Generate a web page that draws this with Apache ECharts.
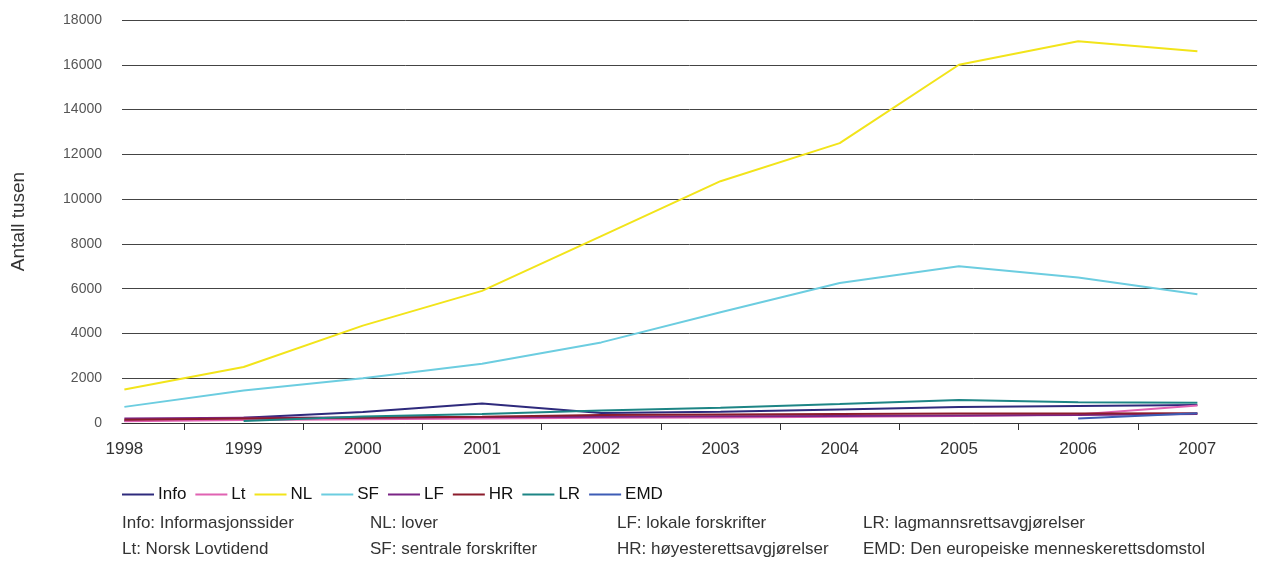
<!DOCTYPE html>
<html>
<head>
<meta charset="utf-8">
<script src="https://cdn.jsdelivr.net/npm/echarts@6/dist/echarts.min.js"></script>
<style>
html,body{margin:0;padding:0;background:#fff;}
#chart{width:1267px;height:569px;}
</style>
</head>
<body>
<div id="chart"></div>
<script>
const years = [1998, 1999, 2000, 2001, 2002, 2003, 2004, 2005, 2006, 2007];
const tickYears = [1998.5, 1999.5, 2000.5, 2001.5, 2002.5, 2003.5, 2004.5, 2005.5, 2006.5];
const yTicks = [0, 2000, 4000, 6000, 8000, 10000, 12000, 14000, 16000, 18000];

const seriesNames = ['Info', 'Lt', 'NL', 'SF', 'LF', 'HR', 'LR', 'EMD'];
const info = [100, 230, 490, 870, 450, 500, 600, 710, 760, 800];
const lt   = [80, 130, 170, 200, 230, 250, 280, 310, 380, 780];
const nl   = [1500, 2500, 4350, 5900, 8350, 10800, 12500, 16000, 17050, 16600];
const sf   = [720, 1450, 2000, 2650, 3600, 4950, 6250, 7000, 6500, 5750];
const lf   = [200, 230, 250, 270, 280, 300, 310, 330, 360, 400];
const hr   = [140, 200, 240, 280, 360, 380, 400, 420, 420, 430];
const lr   = [null, 85, 290, 400, 560, 680, 850, 1030, 930, 900];
const emd  = [null, null, null, null, null, null, null, null, 200, 430];

const notes = [
  'Info: Informasjonssider', 'Lt: Norsk Lovtidend',
  'NL: lover', 'SF: sentrale forskrifter',
  'LF: lokale forskrifter', 'HR: høyesterettsavgjørelser',
  'LR: lagmannsrettsavgjørelser', 'EMD: Den europeiske menneskerettsdomstol'
];

const colors = ['#2e2a7c', '#e062b2', '#f2e41a', '#6ccde0', '#7b2585', '#8c1c2c', '#1d8585', '#3d5cb5'];
const values = [info, lt, nl, sf, lf, hr, lr, emd];
const FONT = 'Liberation Sans, Arial, sans-serif';

const chart = echarts.init(document.getElementById('chart'), null, {renderer: 'canvas'});

const series = seriesNames.map((name, k) => ({
  name: name,
  type: 'line',
  symbol: 'none',
  showSymbol: false,
  lineStyle: {width: 2, color: colors[k]},
  itemStyle: {color: colors[k]},
  data: years.map((y, i) => [y, values[k][i]]).filter(p => p[1] !== null),
  animation: false
}));

const colX = [122, 370, 617, 863];
const rowY = [515, 541];
const graphics = notes.map((t, i) => ({
  type: 'text',
  left: colX[Math.floor(i / 2)],
  top: rowY[i % 2],
  style: {text: t, font: '17px ' + FONT, fill: '#333'}
}));

chart.setOption({
  animation: false,
  backgroundColor: '#fff',
  grid: {left: 122, right: 10, top: 20, bottom: 146, containLabel: false},
  xAxis: {
    type: 'value',
    min: 1997.98,
    max: 2007.5,
    axisLine: {show: true, lineStyle: {color: '#333', width: 1}},
    axisTick: {show: true, customValues: tickYears, length: 7, lineStyle: {color: '#333'}},
    axisLabel: {customValues: years, fontSize: 17, color: '#333', fontFamily: FONT, margin: 18,
      formatter: v => String(Math.round(v))},
    splitLine: {show: false}
  },
  yAxis: {
    type: 'value',
    min: 0,
    max: 18000,
    interval: 2000,
    name: 'Antall tusen',
    nameLocation: 'middle',
    nameRotate: 90,
    nameGap: 94,
    nameTextStyle: {fontSize: 19, color: '#333', fontFamily: FONT},
    axisLine: {show: false},
    axisTick: {show: false},
    axisLabel: {fontSize: 14, color: '#555', fontFamily: FONT, margin: 20,
      formatter: v => String(v)},
    splitLine: {show: true, lineStyle: {color: '#444', width: 1}}
  },
  legend: {
    data: seriesNames,
    left: 117,
    top: 481,
    icon: 'rect',
    itemWidth: 32,
    itemHeight: 2,
    itemGap: 9,
    textStyle: {fontSize: 17, color: '#111', fontFamily: FONT, padding: [0, 0, 0, -1]}
  },
  graphic: graphics,
  series: series
});
</script>
</body>
</html>
